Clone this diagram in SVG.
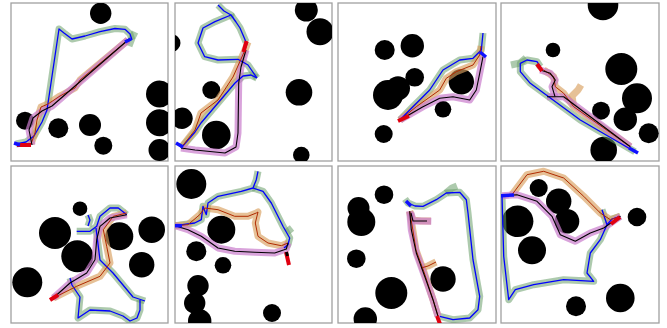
<svg xmlns="http://www.w3.org/2000/svg" width="667" height="328" viewBox="0 0 667 328">
<style>
.frame{fill:#fff;stroke:#a0a0a0;stroke-width:1.3}
.obs{fill:#000}
.gb{fill:none;stroke:#6a9e6a;stroke-width:7;stroke-opacity:.55;stroke-linejoin:round}
.ob{fill:none;stroke:#d9a060;stroke-width:7;stroke-opacity:.65;stroke-linejoin:round}
.pb{fill:none;stroke:#c97ccc;stroke-width:7;stroke-opacity:.7;stroke-linejoin:round}
.bl{fill:none;stroke:#0000ff;stroke-width:1.3;stroke-linejoin:round}
.rl{fill:none;stroke:#b02a00;stroke-width:1;stroke-linejoin:round}
.kl{fill:none;stroke:#000;stroke-width:1.1;stroke-linejoin:round}
.st{fill:none;stroke:#e00010;stroke-width:4}
.bm{fill:none;stroke:#1010ff;stroke-width:3.5}
</style>
<defs>
<clipPath id="c1"><rect x="11" y="3" width="157" height="158"/></clipPath>
<clipPath id="c2"><rect x="175" y="3" width="157" height="158"/></clipPath>
<clipPath id="c3"><rect x="338" y="3" width="158" height="158"/></clipPath>
<clipPath id="c4"><rect x="501" y="3" width="158" height="158"/></clipPath>
<clipPath id="c5"><rect x="11" y="166" width="157" height="157"/></clipPath>
<clipPath id="c6"><rect x="175" y="166" width="157" height="157"/></clipPath>
<clipPath id="c7"><rect x="338" y="166" width="158" height="157"/></clipPath>
<clipPath id="c8"><rect x="501" y="166" width="158" height="157"/></clipPath>
</defs>
<rect width="667" height="328" fill="#fff"/>

<g id="panel1">
<rect class="frame" x="11" y="3" width="157" height="158"/>
<g clip-path="url(#c1)">
<circle class="obs" cx="100.7" cy="13.3" r="10.7"/>
<circle class="obs" cx="159.5" cy="94" r="13.5"/>
<circle class="obs" cx="159.5" cy="122.7" r="13.5"/>
<circle class="obs" cx="159.5" cy="150" r="11"/>
<circle class="obs" cx="25" cy="120.7" r="9"/>
<circle class="obs" cx="58.3" cy="128.3" r="10"/>
<circle class="obs" cx="90" cy="125" r="11"/>
<circle class="obs" cx="103.3" cy="145.7" r="9"/>
<polyline class="gb" points="16,144 26,142 34,136 42,122 47,110 59,29 64,33 72,39 85,36 100,31.7 115,28.5 125,29.3 130,34 132,40"/>
<polyline class="gb" points="129,46 132,38 135,32"/>
<polyline class="ob" points="31,144 35,133 37,120 41,107 48,104 60,96 75,88 80,80 128,40"/>
<polyline class="pb" points="32,145 29,130 33,118 42,111 52,106 128,40"/>
<polyline class="bl" points="16,144 26,142 34,136 42,122 47,110 59,29 64,33 72,39 85,36 100,31.7 115,28.5 125,29.3 130,34 132,40"/>
<polyline class="rl" points="31,144 35,133 37,120 41,107 48,104 60,96 75,88 80,80 128,40"/>
<polyline class="kl" points="32,145 29,130 33,118 42,111 52,106 128,40"/>
<line class="st" x1="17" y1="145" x2="31" y2="145"/>
<path class="bm" d="M14,143 L20,145 M125,42 L131,39"/>
</g>
</g>

<g id="panel2">
<rect class="frame" x="175" y="3" width="157" height="158"/>
<g clip-path="url(#c2)">
<circle class="obs" cx="172" cy="43" r="8.5"/>
<circle class="obs" cx="306.3" cy="10" r="11.5"/>
<circle class="obs" cx="320" cy="31.7" r="13.5"/>
<circle class="obs" cx="211.3" cy="90" r="9"/>
<circle class="obs" cx="299" cy="92.3" r="13.3"/>
<circle class="obs" cx="182" cy="118.3" r="10.7"/>
<circle class="obs" cx="216.3" cy="135" r="14.3"/>
<circle class="obs" cx="301.3" cy="155" r="8.3"/>
<polyline class="gb" points="181,148 195,132 201,123 218,103 235,83 243,76 251,75 257,78"/>
<polyline class="gb" points="218,5 224,11 231,15 215,21.7 203,28 198,43 204.7,56.7 218,60 238,59.3 248,65 257,78"/>
<polyline class="gb" points="231,15 236,22 240,28 246,42"/>
<polyline class="ob" points="181,148 195,130 201,113 218,100 233,77 245,50 248,42"/>
<polyline class="pb" points="181,148 195,150 225,153 236,147 238,133 238.7,83 241,67 246,50"/>
<polyline class="bl" points="181,148 195,132 201,123 218,103 235,83 243,76 251,75 257,78"/>
<polyline class="bl" points="218,5 224,11 231,15 215,21.7 203,28 198,43 204.7,56.7 218,60 238,59.3 248,65 257,78"/>
<polyline class="bl" points="231,15 236,22 240,28 246,42"/>
<polyline class="rl" points="181,148 195,130 201,113 218,100 233,77 245,50 248,42"/>
<polyline class="kl" points="181,148 195,150 225,153 236,147 238,133 238.7,83 241,67 246,50"/>
<line class="st" x1="246.5" y1="41" x2="243.5" y2="52"/>
<path class="bm" d="M176,143 L183,147"/>
</g>
</g>

<g id="panel3">
<rect class="frame" x="338" y="3" width="158" height="158"/>
<g clip-path="url(#c3)">
<circle class="obs" cx="384.7" cy="50" r="10"/>
<circle class="obs" cx="412.3" cy="45.7" r="11.7"/>
<circle class="obs" cx="414.7" cy="77.3" r="9.3"/>
<circle class="obs" cx="388" cy="95" r="15"/>
<circle class="obs" cx="398" cy="88.3" r="12"/>
<circle class="obs" cx="461.3" cy="81.7" r="12.7"/>
<circle class="obs" cx="443" cy="109.3" r="8.3"/>
<circle class="obs" cx="383.7" cy="134" r="9"/>
<polyline class="gb" points="400,120 409.7,110 429.7,90 443,70 459.7,60 473,58.3 481.3,50 483,33"/>
<polyline class="ob" points="400,120 416.3,106.7 439.7,90 446.3,78.3 456.3,71.7 473,65 479.7,55 481,46"/>
<polyline class="pb" points="400,120 423,106.7 439.7,98.3 453,96.7 469.7,100 476.3,90 479.7,73.3 483,56.7"/>
<polyline class="bl" points="400,120 409.7,110 429.7,90 443,70 459.7,60 473,58.3 481.3,50 483,33"/>
<polyline class="rl" points="400,120 416.3,106.7 439.7,90 446.3,78.3 456.3,71.7 473,65 479.7,55 481,46"/>
<polyline class="kl" points="400,120 423,106.7 439.7,98.3 453,96.7 469.7,100 476.3,90 479.7,73.3 483,56.7"/>
<line class="st" x1="398" y1="121" x2="409" y2="116"/>
<path class="bm" d="M480,52 L486,57"/>
</g>
</g>

<g id="panel4">
<rect class="frame" x="501" y="3" width="158" height="158"/>
<g clip-path="url(#c4)">
<circle class="obs" cx="603" cy="5" r="15.3"/>
<circle class="obs" cx="553" cy="50" r="7.3"/>
<circle class="obs" cx="621.3" cy="69" r="16"/>
<circle class="obs" cx="637" cy="98.3" r="15"/>
<circle class="obs" cx="601" cy="110.7" r="9"/>
<circle class="obs" cx="625.3" cy="119.3" r="11.7"/>
<circle class="obs" cx="648.7" cy="133.3" r="10"/>
<circle class="obs" cx="603.7" cy="150" r="13.3"/>
<polyline class="gb" points="635,151.7 580.3,120 530.3,83.3 520.3,71.7 520.3,63.3 527,60 537,61.7 540.3,66.7"/>
<polyline class="gb" points="511,65 520,63 526,58"/>
<polyline class="ob" points="630.3,146.7 597,123.3 573.7,106.7 563.7,93.3 555.3,86.7 553.7,76.7 543.7,70"/>
<polyline class="ob" points="573.7,106.7 572,96 578,90 581,85"/>
<polyline class="pb" points="630.3,146.7 603.7,126.7 577,106.7 563.7,96.7 547,96.7"/>
<polyline class="pb" points="555,96.7 552,86.7 555.3,80 550.3,73.3 540.3,70"/>
<polyline class="bl" points="635,151.7 580.3,120 530.3,83.3 520.3,71.7 520.3,63.3 527,60 537,61.7 540.3,66.7"/>
<polyline class="rl" points="630.3,146.7 597,123.3 573.7,106.7 563.7,93.3 555.3,86.7 553.7,76.7 543.7,70"/>
<polyline class="kl" points="630.3,146.7 603.7,126.7 577,106.7 563.7,96.7 547,96.7"/>
<polyline class="kl" points="555,96.7 552,86.7 555.3,80 550.3,73.3 540.3,70"/>
<line class="st" x1="537" y1="64" x2="542" y2="71"/>
<path class="bm" d="M629,148 L638,153"/>
</g>
</g>

<g id="panel5">
<rect class="frame" x="11" y="166" width="157" height="157"/>
<g clip-path="url(#c5)">
<circle class="obs" cx="80" cy="208.7" r="7.3"/>
<circle class="obs" cx="55" cy="233" r="16"/>
<circle class="obs" cx="77.3" cy="256.3" r="16"/>
<circle class="obs" cx="119.3" cy="236.3" r="14"/>
<circle class="obs" cx="151.7" cy="229.7" r="13.3"/>
<circle class="obs" cx="141.7" cy="264.7" r="12.7"/>
<circle class="obs" cx="27.3" cy="282.3" r="15"/>
<polyline class="gb" points="76.7,231.3 90,231.3 96.7,226.3 100,216.3 110,208 118.3,208 126.7,214.7"/>
<polyline class="gb" points="88,226 90,220 88,215"/>
<polyline class="gb" points="96,228 100,260 113,273 133,297 145,301"/>
<polyline class="gb" points="140,300 140,310 137,318 130,321 123,316 110,311 90,310 78,318 80,297 72,285 70,278"/>
<polyline class="ob" points="53.3,298 76.7,286.3 100,276.3 110,263 106.7,246.3 103.3,229.7 113.3,216.3 126.7,213"/>
<polyline class="pb" points="53.3,298 70,283 86.7,273 95,259.7 96.7,239.7 100,226.3 110,218 126.7,214.7"/>
<polyline class="bl" points="76.7,231.3 90,231.3 96.7,226.3 100,216.3 110,208 118.3,208 126.7,214.7"/>
<polyline class="bl" points="88,226 90,220 88,215"/>
<polyline class="bl" points="96,228 100,260 113,273 133,297 145,301"/>
<polyline class="bl" points="140,300 140,310 137,318 130,321 123,316 110,311 90,310 78,318 80,297 72,285 70,278"/>
<polyline class="rl" points="53.3,298 76.7,286.3 100,276.3 110,263 106.7,246.3 103.3,229.7 113.3,216.3 126.7,213"/>
<polyline class="kl" points="53.3,298 70,283 86.7,273 95,259.7 96.7,239.7 100,226.3 110,218 126.7,214.7"/>
<line class="st" x1="50" y1="300" x2="58" y2="295"/>
</g>
</g>

<g id="panel6">
<rect class="frame" x="175" y="166" width="157" height="157"/>
<g clip-path="url(#c6)">
<circle class="obs" cx="191.3" cy="184" r="15"/>
<circle class="obs" cx="221.3" cy="229.7" r="14"/>
<circle class="obs" cx="196.3" cy="251.3" r="10"/>
<circle class="obs" cx="223" cy="265.3" r="8.3"/>
<circle class="obs" cx="198" cy="285.7" r="10.7"/>
<circle class="obs" cx="194.7" cy="303" r="10.7"/>
<circle class="obs" cx="199.7" cy="321" r="11.7"/>
<circle class="obs" cx="272" cy="313" r="9"/>
<polyline class="gb" points="175,225.7 194.7,223 201.3,219.7 203,206.3 206.3,214.7 208,203 218,196.3 241.3,191.3 253,188 256.3,179.7 258,171.3"/>
<polyline class="gb" points="253,188 263,191.3 271.3,203 283,226.3 289.7,238 288,244.7 284,248"/>
<polyline class="gb" points="287,232 292,228"/>
<polyline class="ob" points="175,225.7 188,224.7 199.7,214.7 204.7,208 218,209.7 234.7,216.3 248,216.3 256.3,213 258,212 255.3,223 258,236.3 268,243 281.3,245.7 288,243"/>
<polyline class="pb" points="175,225.7 188,229.7 201.3,236.3 218,248 234.7,251.3 254.7,252.3 274.7,253 286.3,249 288,243"/>
<polyline class="bl" points="175,225.7 194.7,223 201.3,219.7 203,206.3 206.3,214.7 208,203 218,196.3 241.3,191.3 253,188 256.3,179.7 258,171.3"/>
<polyline class="bl" points="253,188 263,191.3 271.3,203 283,226.3 289.7,238 288,244.7 284,248"/>
<polyline class="rl" points="175,225.7 188,224.7 199.7,214.7 204.7,208 218,209.7 234.7,216.3 248,216.3 256.3,213 258,212 255.3,223 258,236.3 268,243 281.3,245.7 288,243"/>
<polyline class="kl" points="175,225.7 188,229.7 201.3,236.3 218,248 234.7,251.3 254.7,252.3 274.7,253 286.3,249 288,243"/>
<line class="st" x1="286" y1="252" x2="289" y2="265"/>
<line x1="286.5" y1="252" x2="287.5" y2="256" stroke="#000" stroke-width="3"/>
<path class="bm" d="M175,225.7 L182,225.7"/>
</g>
</g>

<g id="panel7">
<rect class="frame" x="338" y="166" width="158" height="157"/>
<g clip-path="url(#c7)">
<circle class="obs" cx="384" cy="194.7" r="9.3"/>
<circle class="obs" cx="358.5" cy="208" r="11"/>
<circle class="obs" cx="361.3" cy="222" r="14"/>
<circle class="obs" cx="356.3" cy="258.7" r="9.3"/>
<circle class="obs" cx="391.3" cy="293" r="16"/>
<circle class="obs" cx="443" cy="279" r="12.7"/>
<circle class="obs" cx="365.3" cy="319" r="11.7"/>
<polyline class="gb" points="405,199 408,203 415,206 423,206.3 436.3,199.7 446.3,193 459.7,192.3 466.3,199.7 468,213 473,259.7 479.7,296.3 478,309.7 469.7,318 453,319.7 439.7,316.3"/>
<polyline class="gb" points="446,193 452,188 457,186"/>
<polyline class="ob" points="409.7,211.3 413,231 416,250 424,272 433,299.7 438,316"/>
<polyline class="ob" points="409.7,211.3 413,220 421,221 431,221"/>
<polyline class="ob" points="421,268 428,266 436,262"/>
<polyline class="pb" points="409.7,211.3 411.3,229.7 416.3,253 424.7,276.3 433,299.7 438,316.3"/>
<polyline class="pb" points="411,213 413,221 421,221 431.3,221.3"/>
<polyline class="bl" points="408,203 415,206 423,206.3 436.3,199.7 446.3,193 459.7,192.3 466.3,199.7 468,213 473,259.7 479.7,296.3 478,309.7 469.7,318 453,319.7 439.7,316.3"/>
<polyline class="rl" points="409.7,211.3 413,231 416,250 424,272 433,299.7 438,316"/>
<polyline class="rl" points="421,268 428,266 436,262"/>
<polyline class="kl" points="409.7,211.3 411.3,229.7 416.3,253 424.7,276.3 433,299.7 438,316.3"/>
<polyline class="kl" points="411,213 413,221 421,221 427,221"/>
<line class="st" x1="437" y1="316" x2="440" y2="324"/>
<path class="bm" d="M406,201 L411,206"/>
</g>
</g>

<g id="panel8">
<rect class="frame" x="501" y="166" width="158" height="157"/>
<g clip-path="url(#c8)">
<circle class="obs" cx="538.7" cy="188" r="9"/>
<circle class="obs" cx="558.7" cy="201.3" r="12.7"/>
<circle class="obs" cx="567" cy="221.3" r="12.3"/>
<circle class="obs" cx="517.7" cy="221.3" r="15.7"/>
<circle class="obs" cx="532" cy="250.3" r="14"/>
<circle class="obs" cx="637" cy="217" r="9.3"/>
<circle class="obs" cx="620.3" cy="298" r="14.3"/>
<circle class="obs" cx="576" cy="306.3" r="10"/>
<polyline class="gb" points="502,195.7 503.7,256.3 508.7,299.7 515.3,289.7 533.7,284.7 563.7,279.7 593.7,281.3 587,273 590.3,253 600.3,239.7 607,224.7 602,209.7"/>
<polyline class="gb" points="607,224.7 612,219 620.3,216.3"/>
<polyline class="ob" points="512,194.7 527,174.7 543.7,171.3 563.7,178 583.7,196.3 600.3,213 610.3,219.7 620.3,216.3"/>
<polyline class="pb" points="502,195.7 517,194.7 537,201.3 552,216.3 560.3,234.7 575.3,241.3 590.3,233 603.7,228 620.3,216.3"/>
<polyline class="bl" points="502,195.7 503.7,256.3 508.7,299.7 515.3,289.7 533.7,284.7 563.7,279.7 593.7,281.3 587,273 590.3,253 600.3,239.7 607,224.7 602,209.7"/>
<polyline class="bl" points="607,224.7 612,219 620.3,216.3"/>
<polyline class="rl" points="512,194.7 527,174.7 543.7,171.3 563.7,178 583.7,196.3 600.3,213 610.3,219.7 620.3,216.3"/>
<polyline class="kl" points="502,195.7 517,194.7 537,201.3 552,216.3 560.3,234.7 575.3,241.3 590.3,233 603.7,228 620.3,216.3"/>
<line class="st" x1="611" y1="224" x2="620" y2="217"/>
<path class="bm" d="M501,195.7 L514,195"/>
</g>
</g>
</svg>
